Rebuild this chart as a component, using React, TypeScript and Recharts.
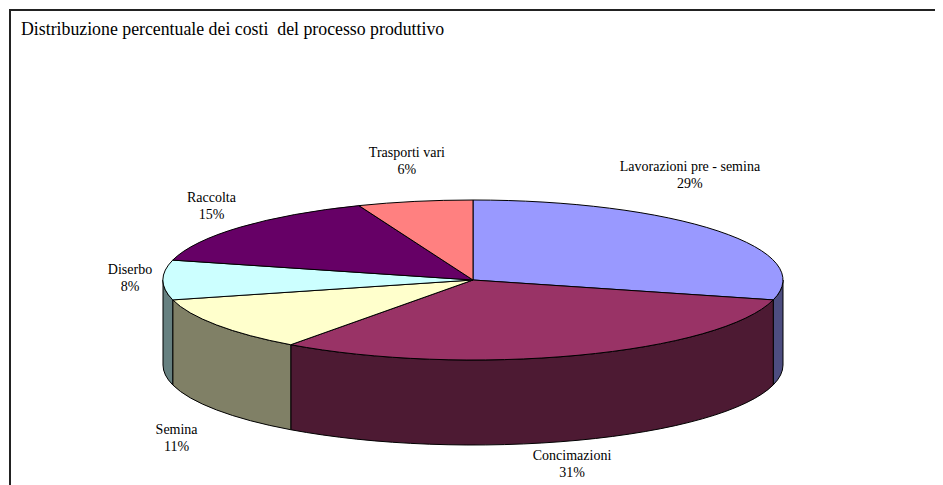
import { Cell, Pie, PieChart } from "recharts";

// shares of the production process costs (%)
const categories = [
  "Lavorazioni pre - semina",
  "Concimazioni",
  "Semina",
  "Diserbo",
  "Raccolta",
  "Trasporti vari",
];
const shares = [29, 31, 11, 8, 15, 6];

const COLORS = ["#9999FF", "#993366", "#FFFFCC", "#CCFFFF", "#660066", "#FF8080"];

const data = categories.map((name, i) => ({ name, value: shares[i] }));

const TITLE = "Distribuzione percentuale dei costi  del processo produttivo";
const FONT = "'Liberation Serif', 'Times New Roman', serif";

const RAD = Math.PI / 180;
const TILT = 80 / 310; // vertical squash of the pie top
const DEPTH = 85; // height of the side wall

// label placement relative to the rim point at the slice's mid angle
const LABEL_NUDGE = [
  [-28, -56],
  [-6, 109],
  [-40, 113],
  [-33, -2],
  [-29, -21],
  [-8, -40],
];

const darken = (hex: string) => {
  const n = parseInt(hex.slice(1), 16);
  const r = Math.round(((n >> 16) & 255) / 2);
  const g = Math.round(((n >> 8) & 255) / 2);
  const b = Math.round((n & 255) / 2);
  return `rgb(${r},${g},${b})`;
};

const Slice3D = (props: any) => {
  const { cx, cy, outerRadius, startAngle, endAngle, fill } = props;
  const rx = outerRadius;
  const ry = rx * TILT;
  const pt = (a: number, dy = 0) =>
    `${cx + rx * Math.cos(a * RAD)},${cy - ry * Math.sin(a * RAD) + dy}`;

  const hiA = Math.max(startAngle, endAngle);
  const loA = Math.min(startAngle, endAngle);
  const large = hiA - loA > 180 ? 1 : 0;
  const top = `M${cx},${cy} L${pt(hiA)} A${rx},${ry} 0 ${large} 1 ${pt(loA)} Z`;

  // front wall: only the part of the slice between -180 and 0 degrees
  const wLo = Math.max(loA, -180);
  const wHi = Math.min(hiA, 0);
  let wall = null;
  if (wHi > wLo) {
    const d =
      `M${pt(wHi)} A${rx},${ry} 0 0 1 ${pt(wLo)} ` +
      `L${pt(wLo, DEPTH)} A${rx},${ry} 0 0 0 ${pt(wHi, DEPTH)} Z`;
    wall = <path d={d} fill={darken(fill)} stroke="#000" strokeWidth={1} />;
  }

  return (
    <g>
      {wall}
      <path d={top} fill={fill} stroke="#000" strokeWidth={1} />
    </g>
  );
};

const renderLabel = (props: any) => {
  const { cx, cy, midAngle, outerRadius, percent, index } = props;
  const [nx, ny] = LABEL_NUDGE[index];
  const x = cx + outerRadius * Math.cos(midAngle * RAD) + nx;
  const y = cy - outerRadius * TILT * Math.sin(midAngle * RAD) + ny;
  return (
    <text textAnchor="middle" fontFamily={FONT} fontSize={14} fill="#000">
      <tspan x={x} y={y - 4}>
        {data[index].name}
      </tspan>
      <tspan x={x} y={y + 13}>
        {`${Math.round(percent * 100)}%`}
      </tspan>
    </text>
  );
};

export default function App() {
  return (
    <PieChart width={935} height={477} margin={{ top: 0, right: 0, bottom: 0, left: 0 }}>
      <rect x={2} y={2} width={960} height={500} fill="#fff" stroke="#222" strokeWidth={2} />
      <text x={13} y={26.5} fontFamily={FONT} fontSize={17.8} fill="#000" style={{ whiteSpace: "pre" }}>
        {TITLE}
      </text>
      <Pie
        data={data}
        dataKey="value"
        nameKey="name"
        cx={465}
        cy={272}
        outerRadius={310}
        startAngle={90}
        endAngle={-270}
        stroke="#000"
        isAnimationActive={false}
        labelLine={false}
        label={renderLabel}
        shape={Slice3D}
        activeShape={Slice3D}
        inactiveShape={Slice3D}
      >
        {data.map((entry, index) => (
          <Cell key={`cell-${entry.name}`} fill={COLORS[index]} />
        ))}
      </Pie>
    </PieChart>
  );
}
